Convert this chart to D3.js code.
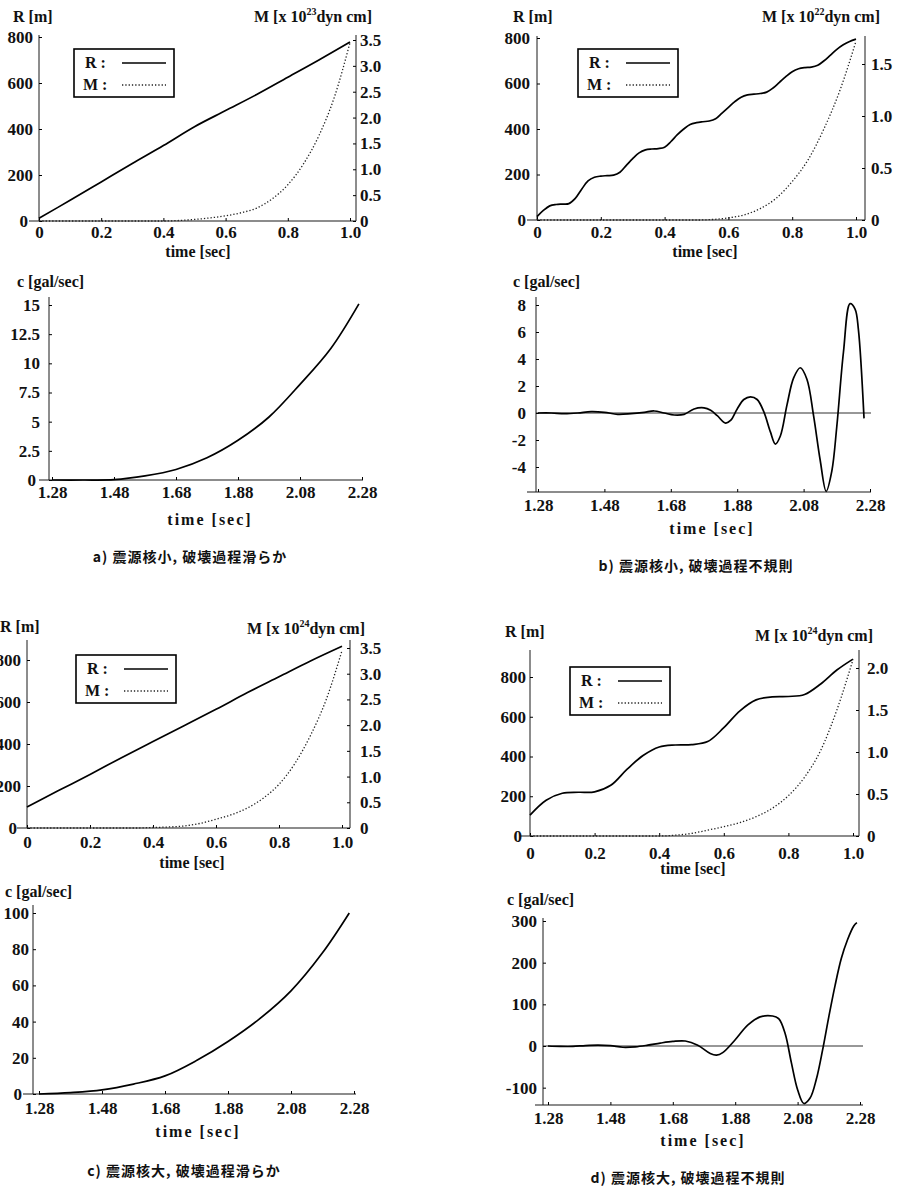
<!DOCTYPE html>
<html>
<head>
<meta charset="utf-8">
<script src="https://cdn.jsdelivr.net/npm/d3@7"></script>
<style>
body { margin: 0; background: #fff; }
svg text { font-family: "Liberation Serif", "Times New Roman", serif; font-weight: bold; fill: #111; }
.tick text { font-size: 17px; }
.title { font-size: 16px; }
.sup { font-size: 10px; }
.legend text { font-size: 16px; }
.caption { font-family: "Noto Sans CJK JP", sans-serif !important; font-size: 14px; letter-spacing: 1px; }
</style>
</head>
<body>
<svg width="901" height="1191"></svg>
<script>
// ---- tick values / labels ----
var timeTicksTop = [0, 0.2, 0.4, 0.6, 0.8, 1.0];
var timeLabelsTop = ["0", "0.2", "0.4", "0.6", "0.8", "1.0"];
var timeTicksBottom = [1.28, 1.48, 1.68, 1.88, 2.08, 2.28];
var radiusTicks = [0, 200, 400, 600, 800];

var momentTicksA = [0, 0.5, 1.0, 1.5, 2.0, 2.5, 3.0, 3.5];
var momentTicksB = [0, 0.5, 1.0, 1.5];
var momentTicksC = [0, 0.5, 1.0, 1.5, 2.0, 2.5, 3.0, 3.5];
var momentTicksD = [0, 0.5, 1.0, 1.5, 2.0];

var rateTicksA = [0, 2.5, 5, 7.5, 10, 12.5, 15];
var rateTicksB = [-4, -2, 0, 2, 4, 6, 8];
var rateTicksC = [0, 20, 40, 60, 80, 100];
var rateTicksD = [-100, 0, 100, 200, 300];

var captions = ["a) 震源核小,  破壊過程滑らか", "b) 震源核小,  破壊過程不規則",
                "c) 震源核大,  破壊過程滑らか", "d) 震源核大,  破壊過程不規則"];
var momentExponents = ["23", "22", "24", "24"];

// ---- series: [time, value] ----
var radiusA = [[0,12],[0.1,90],[0.2,170],[0.3,250],[0.4,328],[0.5,410],[0.6,480],[0.7,550],[0.8,625],[0.9,700],[1.0,778]];
var momentA = [[0,0],[0.4,0],[0.45,0.01],[0.5,0.03],[0.55,0.06],[0.6,0.1],[0.65,0.16],[0.7,0.25],[0.75,0.43],[0.8,0.7],[0.85,1.1],[0.9,1.65],[0.95,2.4],[1.0,3.45]];
var rateA = [[1.28,0],[1.38,0],[1.48,0.03],[1.58,0.35],[1.68,0.9],[1.78,1.9],[1.88,3.4],[1.98,5.4],[2.08,8.2],[2.18,11.3],[2.27,15.1]];

var radiusB = [[0,15],[0.02,42],[0.04,62],[0.06,68],[0.08,70],[0.1,72],[0.12,95],[0.14,135],[0.16,172],[0.18,188],[0.2,193],[0.22,195],[0.24,197],[0.26,210],[0.28,240],[0.3,270],[0.32,295],[0.34,308],[0.36,312],[0.38,314],[0.4,320],[0.42,345],[0.44,375],[0.46,400],[0.48,420],[0.5,428],[0.52,432],[0.54,435],[0.56,445],[0.58,470],[0.6,495],[0.62,520],[0.64,540],[0.66,550],[0.68,553],[0.7,556],[0.72,562],[0.74,580],[0.76,605],[0.78,630],[0.8,652],[0.82,665],[0.84,670],[0.86,672],[0.88,680],[0.9,700],[0.92,725],[0.94,750],[0.96,770],[0.98,785],[1.0,795]];
var momentB = [[0,0],[0.5,0],[0.55,0.005],[0.6,0.02],[0.65,0.05],[0.7,0.11],[0.75,0.21],[0.8,0.37],[0.85,0.58],[0.9,0.88],[0.95,1.25],[1.0,1.72]];
var rateB = [[1.28,0],[1.32,0],[1.36,-0.05],[1.4,0],[1.44,0.1],[1.48,0.05],[1.52,-0.1],[1.56,-0.05],[1.6,0.05],[1.63,0.15],[1.66,0],[1.69,-0.15],[1.72,-0.1],[1.75,0.3],[1.78,0.38],[1.8,0.2],[1.82,-0.2],[1.845,-0.75],[1.86,-0.55],[1.88,0.3],[1.9,1.0],[1.92,1.2],[1.94,1.0],[1.96,0.1],[1.98,-1.4],[1.995,-2.3],[2.01,-1.7],[2.03,0.6],[2.05,2.6],[2.07,3.35],[2.09,2.5],[2.11,-0.2],[2.13,-3.5],[2.148,-5.8],[2.165,-4.3],[2.18,-1.0],[2.2,4.5],[2.22,8.1],[2.235,7.7],[2.245,6.2],[2.262,-0.4]];

var radiusC = [[0,100],[0.1,178],[0.2,255],[0.3,335],[0.4,412],[0.5,488],[0.6,565],[0.7,645],[0.8,720],[0.9,795],[1.0,865]];
var momentC = [[0,0],[0.35,0],[0.4,0.01],[0.45,0.02],[0.5,0.04],[0.55,0.09],[0.6,0.17],[0.65,0.26],[0.7,0.39],[0.75,0.58],[0.8,0.85],[0.85,1.25],[0.9,1.8],[0.95,2.5],[1.0,3.45]];
var rateC = [[1.28,0],[1.38,0.8],[1.48,2.3],[1.58,5.5],[1.68,10],[1.78,18.5],[1.88,29],[1.98,41.5],[2.08,57],[2.18,78],[2.265,100]];

var radiusD = [[0,105],[0.05,180],[0.1,215],[0.15,220],[0.2,222],[0.25,255],[0.3,335],[0.35,405],[0.4,448],[0.45,458],[0.5,460],[0.55,475],[0.6,545],[0.65,630],[0.7,685],[0.75,700],[0.8,702],[0.85,712],[0.9,765],[0.95,835],[1.0,890]];
var momentD = [[0,0],[0.4,0],[0.45,0.01],[0.5,0.03],[0.55,0.07],[0.6,0.11],[0.65,0.16],[0.7,0.23],[0.75,0.33],[0.8,0.48],[0.85,0.7],[0.9,1.02],[0.95,1.5],[1.0,2.1]];
var rateD = [[1.28,0],[1.32,-1],[1.36,-1],[1.4,1],[1.44,2],[1.48,1],[1.52,-3],[1.56,-2],[1.6,2],[1.64,7],[1.68,11],[1.72,12],[1.76,2],[1.8,-18],[1.82,-22],[1.84,-16],[1.88,15],[1.92,50],[1.96,70],[2.0,72],[2.02,65],[2.04,30],[2.06,-40],[2.08,-105],[2.1,-138],[2.12,-125],[2.14,-80],[2.16,-10],[2.18,70],[2.2,145],[2.22,210],[2.24,255],[2.26,288],[2.27,296]];

// ---- layout (pixels) ----
var topLayout = [
  {ax:39, one:350, rx:356, base:221, y800:37, top:35, mMax:3.5, mTop:40, lx:33, z:5, rlx:360, tickY:238, tx:198, ty:257, rl:[13,22], ml:[372,22], leg:[74,49]},
  {ax:537, one:856, rx:865, base:220, y800:38, top:36, mMax:1.5, mTop:64, lx:530, z:4, rlx:871, tickY:238, tx:705, ty:257, rl:[513,22], ml:[880,22], leg:[578,49]},
  {ax:27, one:342, rx:350, base:828, y800:660, top:640, mMax:3.5, mTop:648, lx:21, z:4, rlx:360, tickY:848, tx:192, ty:868, rl:[0,632], ml:[365,634], leg:[76,655]},
  {ax:530, one:853, rx:859, base:836, y800:677, top:650, mMax:2.0, mTop:668, lx:526, z:4, rlx:867, tickY:859, tx:693, ty:874, rl:[505,637], ml:[873,641], leg:[570,667]}
];
var bottomLayout = [
  {ax:49, x0:39, x1:363, t0:52, t1:362, base:480, v0:480, vTop:305, top:297, lx:40, z:4, tickY:498, tx:210, ty:525, cl:[17,287], cap:[190,562], zero:false},
  {ax:536, x0:527, x1:871, t0:538, t1:870, base:492, v0:413, vTop:305, top:297, lx:526, z:0, tickY:511, tx:712, ty:534, cl:[513,287], cap:[696,571], zero:true},
  {ax:33, x0:23, x1:356, t0:39, t1:354, base:1094, v0:1094, vTop:913, top:905, lx:29, z:7, tickY:1114, tx:198, ty:1137, cl:[5,897], cap:[184,1176], zero:false},
  {ax:543, x0:535, x1:863, t0:548, t1:860, base:1105, v0:1046, vTop:921, top:918, lx:537, z:0, tickY:1124, tx:703, ty:1146, cl:[507,905], cap:[688,1183], zero:true}
];

var svg = d3.select("svg");
var fmt = function(d) { return d === 0 ? "0" : d3.format(".1f")(d); };

function line(g, x1, y1, x2, y2, w) {
  g.append("line").attr("x1", x1).attr("y1", y1).attr("x2", x2).attr("y2", y2)
    .attr("stroke", "#1a1a1a").attr("stroke-width", w || 1);
}

// the origin label sits a little further left, clear of the axis stub
function shiftZero(a, L) {
  a.selectAll(".tick text").filter(function(d) { return d === 0; })
    .attr("x", -(L.ax - L.lx) - L.z);
}

function drawTop(L, radius, moment, mTicks, expo) {
  var g = svg.append("g");
  var x = d3.scaleLinear().domain([0, 1]).range([L.ax, L.one]);
  var yR = d3.scaleLinear().domain([0, 800]).range([L.base, L.y800]);
  var yM = d3.scaleLinear().domain([0, L.mMax]).range([L.base, L.mTop]);

  // axis lines
  line(g, L.ax - 10, L.base, L.rx, L.base, 1.2);
  line(g, L.ax, L.base, L.ax, L.top, 1);
  line(g, L.rx, L.base, L.rx, L.top, 1);

  var xa = g.append("g").attr("transform", "translate(0," + L.base + ")")
    .call(d3.axisBottom(x).tickValues(timeTicksTop).tickFormat(function(d, i) { return timeLabelsTop[i]; })
      .tickSize(-3).tickSizeOuter(0).tickPadding(L.tickY - L.base - 12));
  var la = g.append("g").attr("transform", "translate(" + L.ax + ",0)")
    .call(d3.axisLeft(yR).tickValues(radiusTicks).tickSize(-3).tickSizeOuter(0).tickPadding(L.ax - L.lx));
  var ra = g.append("g").attr("transform", "translate(" + L.rx + ",0)")
    .call(d3.axisRight(yM).tickValues(mTicks).tickFormat(fmt).tickSize(-3).tickSizeOuter(0).tickPadding(L.rlx - L.rx));
  [xa, la, ra].forEach(function(a) {
    a.select(".domain").remove();
    a.attr("font-family", null).attr("font-size", null);
  });
  shiftZero(la, L);

  // series
  g.append("path").datum(radius)
    .attr("fill", "none").attr("stroke", "#000").attr("stroke-width", 1.7)
    .attr("d", d3.line().x(function(d) { return x(d[0]); }).y(function(d) { return yR(d[1]); }).curve(d3.curveCatmullRom));
  g.append("path").datum(moment)
    .attr("fill", "none").attr("stroke", "#222").attr("stroke-width", 1.3).attr("stroke-dasharray", "1.3,2")
    .attr("d", d3.line().x(function(d) { return x(d[0]); }).y(function(d) { return yM(d[1]); }).curve(d3.curveMonotoneX));

  // titles
  g.append("text").attr("class", "title").attr("x", L.rl[0]).attr("y", L.rl[1]).text("R [m]");
  var mt = g.append("text").attr("class", "title").attr("x", L.ml[0]).attr("y", L.ml[1]).attr("text-anchor", "end");
  mt.append("tspan").text("M [x 10");
  mt.append("tspan").attr("class", "sup").attr("dy", -7).text(expo);
  mt.append("tspan").attr("dy", 7).text("dyn cm]");
  g.append("text").attr("class", "title").attr("x", L.tx).attr("y", L.ty).attr("text-anchor", "middle").text("time [sec]");

  // legend
  var lg = g.append("g").attr("class", "legend").attr("transform", "translate(" + L.leg[0] + "," + L.leg[1] + ")");
  lg.append("rect").attr("width", 100).attr("height", 48).attr("fill", "#fff").attr("stroke", "#000").attr("stroke-width", 1.6);
  lg.append("text").attr("x", 11).attr("y", 19).text("R :");
  lg.append("text").attr("x", 9).attr("y", 41).text("M :");
  lg.append("line").attr("x1", 48).attr("x2", 92).attr("y1", 14).attr("y2", 14).attr("stroke", "#000").attr("stroke-width", 1.7);
  lg.append("line").attr("x1", 48).attr("x2", 92).attr("y1", 36).attr("y2", 36).attr("stroke", "#222").attr("stroke-width", 1.3).attr("stroke-dasharray", "1.3,2");
}

function drawBottom(L, rate, cTicks, caption) {
  var g = svg.append("g");
  var x = d3.scaleLinear().domain([1.28, 2.28]).range([L.t0, L.t1]);
  var y = d3.scaleLinear().domain([0, cTicks[cTicks.length - 1]]).range([L.v0, L.vTop]);

  line(g, L.x0, L.base, L.x1, L.base, 1.2);
  line(g, L.ax, L.base, L.ax, L.top, 1);
  if (L.zero) line(g, L.ax, y(0), L.x1, y(0), 0.9);

  var xa = g.append("g").attr("transform", "translate(0," + L.base + ")")
    .call(d3.axisBottom(x).tickValues(timeTicksBottom).tickFormat(d3.format(".2f"))
      .tickSize(-3).tickSizeOuter(0).tickPadding(L.tickY - L.base - 12));
  var ya = g.append("g").attr("transform", "translate(" + L.ax + ",0)")
    .call(d3.axisLeft(y).tickValues(cTicks).tickFormat(function(d) { return String(d); })
      .tickSize(-3).tickSizeOuter(0).tickPadding(L.ax - L.lx));
  [xa, ya].forEach(function(a) {
    a.select(".domain").remove();
    a.attr("font-family", null).attr("font-size", null);
  });
  shiftZero(ya, L);

  g.append("path").datum(rate)
    .attr("fill", "none").attr("stroke", "#000").attr("stroke-width", 1.7)
    .attr("d", d3.line().x(function(d) { return x(d[0]); }).y(function(d) { return y(d[1]); }).curve(d3.curveCatmullRom));

  g.append("text").attr("class", "title").attr("x", L.cl[0]).attr("y", L.cl[1]).text("c [gal/sec]");
  g.append("text").attr("class", "title").attr("x", L.tx).attr("y", L.ty).attr("text-anchor", "middle")
    .attr("letter-spacing", "2px").text("time [sec]");
  g.append("text").attr("class", "caption").attr("x", L.cap[0]).attr("y", L.cap[1]).attr("text-anchor", "middle").text(caption);
}

drawTop(topLayout[0], radiusA, momentA, momentTicksA, momentExponents[0]);
drawTop(topLayout[1], radiusB, momentB, momentTicksB, momentExponents[1]);
drawTop(topLayout[2], radiusC, momentC, momentTicksC, momentExponents[2]);
drawTop(topLayout[3], radiusD, momentD, momentTicksD, momentExponents[3]);

drawBottom(bottomLayout[0], rateA, rateTicksA, captions[0]);
drawBottom(bottomLayout[1], rateB, rateTicksB, captions[1]);
drawBottom(bottomLayout[2], rateC, rateTicksC, captions[2]);
drawBottom(bottomLayout[3], rateD, rateTicksD, captions[3]);
</script>
</body>
</html>
